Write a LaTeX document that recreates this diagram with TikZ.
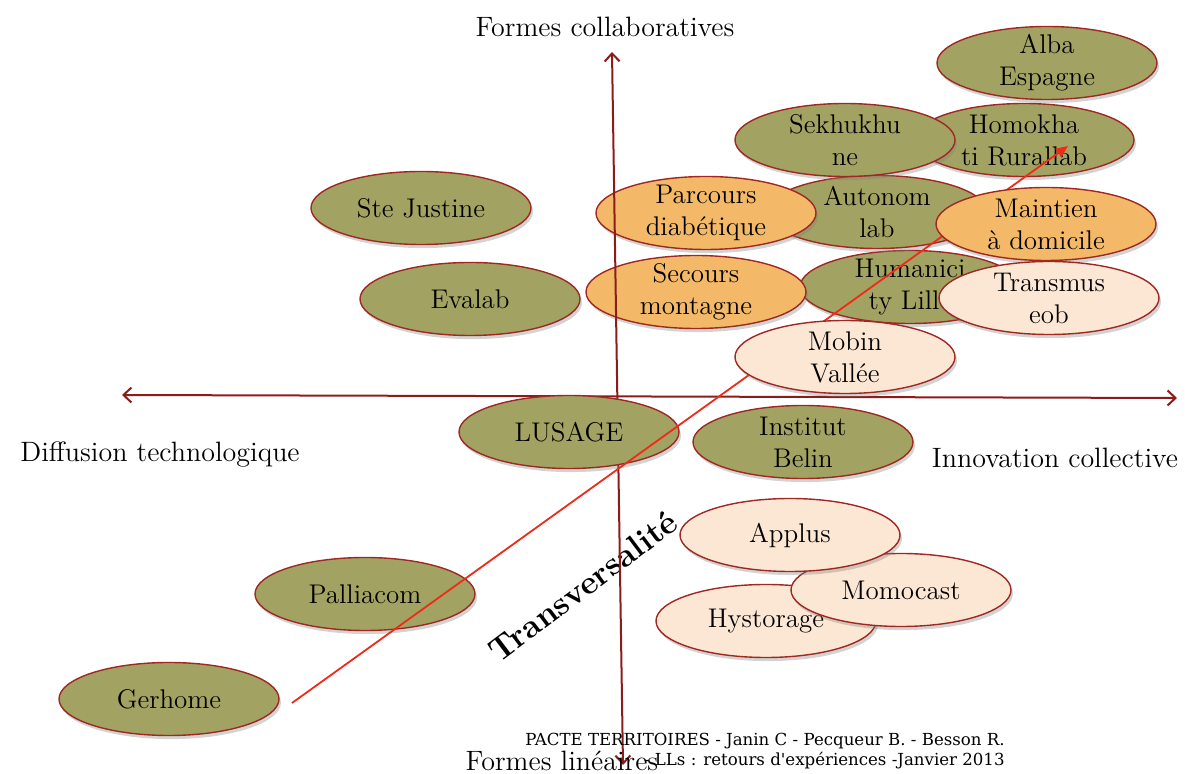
\documentclass[tikz,border=0pt]{standalone}
\usepackage{fontspec}
\newfontfamily\footfont{DejaVu Serif}
\usetikzlibrary{shapes.geometric,shadows,arrows.meta}
\definecolor{olivelab}{RGB}{162,163,98}
\definecolor{orangelab}{RGB}{243,185,104}
\definecolor{peachlab}{RGB}{252,231,212}
\definecolor{rimred}{RGB}{160,40,34}
\definecolor{axisred}{RGB}{140,28,26}
\definecolor{trendred}{RGB}{240,42,24}
\newcommand{\labfont}{\fontsize{13.5}{16}\selectfont}
\newcommand{\axfont}{\fontsize{14}{16}\selectfont}
\tikzset{
  lab/.style={ellipse, draw=rimred, line width=0.7pt, minimum width=110pt,
    minimum height=36.5pt, inner sep=0pt,
    drop shadow={shadow xshift=1pt, shadow yshift=-1.8pt, opacity=0.35}},
  greenlab/.style={lab, fill=olivelab},
  orangelab/.style={lab, fill=orangelab},
  peachlab/.style={lab, fill=peachlab},
  labtext/.style={font=\labfont, align=center, inner sep=0pt},
  axis/.style={draw=axisred, line width=1pt,
    {Straight Barb[length=4pt,width=7.5pt]}-{Straight Barb[length=4pt,width=7.5pt]}},
  trend/.style={draw=trendred, line width=0.9pt, -{Triangle[length=6pt,width=5pt]}},
  axislabel/.style={font=\axfont, inner sep=0pt}
}
\begin{document}
\begin{tikzpicture}[x=0.5pt,y=0.5pt]
\useasboundingbox (0,0) rectangle (1185,-774);
% green labs
\node[greenlab] (alba) at (1047,-63) {};
\node[labtext] (alba txt) at (alba) {Alba\\Espagne};
\node[greenlab] (homo) at (1024,-140) {};
\node[labtext] (homo txt) at (homo) {Homokha\\ti Rurallab};
\node[greenlab] (huma) at (910,-287) {};
\node[labtext] (huma txt) at (huma) {Humanici\\ty Lille};
\node[greenlab] (auto) at (877,-212) {};
\node[labtext] (auto txt) at (auto) {Autonom\\lab};
\node[greenlab] (sekhu) at (845,-140) {};
\node[labtext] (sekhu txt) at (sekhu) {Sekhukhu\\ne};
\node[greenlab] (ste) at (421,-208) {};
\node[labtext] (ste txt) at (ste) {Ste Justine};
\node[greenlab] (eva) at (470,-299) {};
\node[labtext] (eva txt) at (eva) {Evalab};
\node[greenlab] (belin) at (803,-442) {};
\node[labtext] (belin txt) at (belin) {Institut\\Belin};
\node[greenlab] (pallia) at (365,-594) {};
\node[labtext] (pallia txt) at (pallia) {Palliacom};
\node[greenlab] (ger) at (169,-699) {};
\node[labtext] (ger txt) at (ger) {Gerhome};
% orange labs left of the trend
\node[orangelab] (parc) at (706,-213) {};
\node[labtext] (parc txt) at (parc) {Parcours\\diabétique};
\node[orangelab] (secours) at (696,-292) {};
\node[labtext] (secours txt) at (secours) {Secours\\montagne};
% diagonal title
\node[rotate=37, font=\fontsize{16.5}{16}\selectfont\bfseries, inner sep=0pt] (transv) at (583,-586) {Transversalité};
% axes
\coordinate (west) at (122,-395);
\coordinate (east) at (1177,-398);
\coordinate (north) at (612,-52);
\coordinate (south) at (623,-765);
\draw[axis] (west) -- (east);
\draw[axis] (north) -- (south);
\node[greenlab] (lusage) at (569,-432) {};
\node[labtext] (lusage txt) at (lusage) {LUSAGE};
% trend line
\coordinate (trend start) at (292,-703);
\coordinate (trend tip) at (1068,-146);
\draw[trend] (trend start) -- (trend tip);
% labs over the trend
\node[orangelab] (maint) at (1046,-224) {};
\node[labtext] (maint txt) at (maint) {Maintien\\à domicile};
\node[peachlab] (trans) at (1049,-298) {};
\node[labtext] (trans txt) at (trans) {Transmus\\eob};
\node[peachlab] (mobin) at (845,-357) {};
\node[labtext] (mobin txt) at (mobin) {Mobin\\Vallée};
\node[peachlab] (hysto) at (766,-621) {};
\node[labtext] (hysto txt) at (hysto) {Hystorage};
\node[peachlab] (momo) at (901,-590) {};
\node[labtext] (momo txt) at (momo) {Momocast};
\node[peachlab] (applus) at (790,-535) {};
\node[labtext] (applus txt) at (applus) {Applus};
% axis labels
\node[axislabel] (collab) at (605,-27) {Formes collaboratives};
\node[axislabel] (diffusion) at (160,-455) {Diffusion technologique};
\node[axislabel] (innov) at (1055,-458) {Innovation collective};
\node[axislabel] (lineaire) at (562,-761) {Formes linéaires};
% footer
\node[font=\footfont\fontsize{8.3}{10}\selectfont, align=right, inner sep=0pt, anchor=north east] (foot) at (1005,-733) {PACTE TERRITOIRES - Janin C - Pecqueur B. - Besson R.\\- LLs : retours d'expériences -Janvier 2013};
\end{tikzpicture}
\end{document}
